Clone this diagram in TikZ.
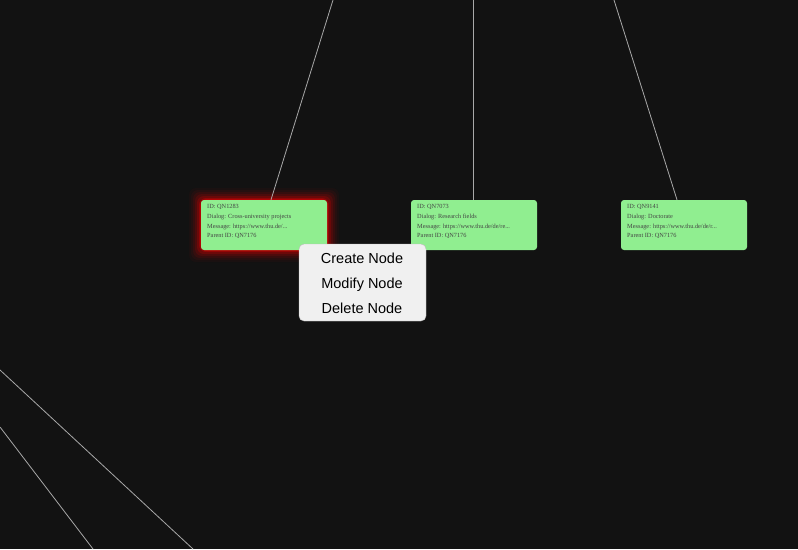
\documentclass[tikz,border=0pt]{standalone}
\usepackage{fontspec}
\setmainfont{Liberation Serif}
\newfontfamily\menufont{Liberation Sans}
\definecolor{bg}{HTML}{121212}
\definecolor{boxgreen}{HTML}{90EE90}
\definecolor{edgegrey}{HTML}{A8A8A8}
\definecolor{txtgrey}{HTML}{444444}
\definecolor{menubg}{HTML}{F0F0F0}
\definecolor{menuborder}{HTML}{BBBBBB}
\tikzset{
  x=1pt, y=-1pt,
  edge/.style={draw=edgegrey, line width=0.8pt},
  infobox/.style={draw=none, fill=boxgreen, rounded corners=3pt, minimum width=126pt, minimum height=50pt, inner sep=0pt},
  infotext/.style={anchor=north west, align=left, text=txtgrey, font=\fontsize{6.3}{9.7}\selectfont, inner sep=0pt},
  menubox/.style={draw=menuborder, fill=menubg, rounded corners=5pt, minimum width=127pt, minimum height=77pt, inner sep=0pt},
  menuitem/.style={font=\menufont\fontsize{14.5}{17}\selectfont, text=black, inner sep=0pt, text height=10.5pt, text depth=3pt},
}
\begin{document}
\begin{tikzpicture}
\fill[bg] (0,0) rectangle (798,549);
\useasboundingbox (0,0) rectangle (798,549);
% off-screen endpoints
\coordinate (t1) at (333,0);
\coordinate (t2) at (473,0);
\coordinate (t3) at (614,0);
\coordinate (l1a) at (0,370);
\coordinate (l1b) at (193,549);
\coordinate (l2a) at (0,427);
\coordinate (l2b) at (93,549);
% glow for box 1
\foreach \g/\o in {12/0.04,10/0.06,8/0.09,6/0.13,4/0.2,2/0.3,1/0.4}{
  \fill[red!90!black, opacity=\o, rounded corners=7pt] (201-\g,200-\g) rectangle (327+\g,250+\g);
}
% boxes
\node[infobox] (b1) at (264,225) {};
\node[infobox] (b2) at (474,225) {};
\node[infobox] (b3) at (684,225) {};
% edges
\draw[edge] (t1) -- (b1.north -| 271,0);
\draw[edge] (t2) -- (b2.north -| 473,0);
\draw[edge] (t3) -- (b3.north -| 677,0);
\draw[edge] (l1a) -- (l1b);
\draw[edge] (l2a) -- (l2b);
% box texts
\node[infotext] (b1t) at (207,204.5) {ID: QN1283\\Dialog: Cross-university projects\\Message: https://www.thu.de/...\\Parent ID: QN7176};
\node[infotext] (b2t) at (417,204.5) {ID: QN7073\\Dialog: Research fields\\Message: https://www.thu.de/de/re...\\Parent ID: QN7176};
\node[infotext] (b3t) at (627,204.5) {ID: QN9141\\Dialog: Doctorate\\Message: https://www.thu.de/de/r...\\Parent ID: QN7176};
% context menu
\node[menubox] (menu) at (362.5,282.5) {};
\node[menuitem] (m1) at (362,259.8) {Create Node};
\node[menuitem] (m2) at (362,284.8) {Modify Node};
\node[menuitem] (m3) at (362,309.8) {Delete Node};
\end{tikzpicture}
\end{document}
